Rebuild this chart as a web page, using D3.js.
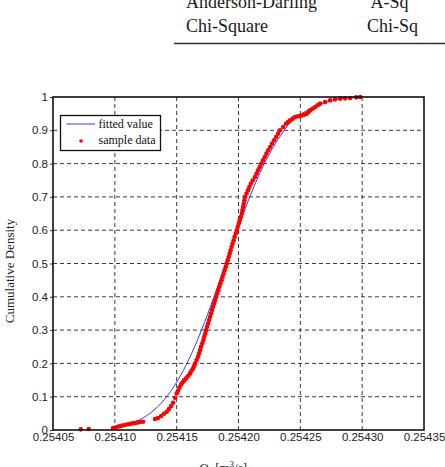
<!DOCTYPE html>
<html>
<head>
<meta charset="utf-8">
<script src="https://cdn.jsdelivr.net/npm/d3@7"></script>
<style>
  body { margin: 0; background: #fff; }
  svg { display: block; }
</style>
</head>
<body>
<script>
var w = 445;
var h = 467;

// table fragment above the chart
var tableTests = ["Anderson-Darling", "Chi-Square"];
var tableSymbols = ["A-Sq", "Chi-Sq"];

// axis ticks
var xTicks = [0.25405, 0.25410, 0.25415, 0.25420, 0.25425, 0.25430, 0.25435];
var xTickLabels = ["0.25405", "0.25410", "0.25415", "0.25420", "0.25425", "0.25430", "0.25435"];
var yTicks = [0, 0.1, 0.2, 0.3, 0.4, 0.5, 0.6, 0.7, 0.8, 0.9, 1];
var yTickLabels = ["0", "0.1", "0.2", "0.3", "0.4", "0.5", "0.6", "0.7", "0.8", "0.9", "1"];

var legendLabels = ["fitted value", "sample data"];

// fitted cdf
var fittedQ = [0.254100, 0.254105, 0.254110, 0.254115, 0.254120, 0.254125, 0.254130, 0.254135,
  0.254140, 0.254145, 0.254150, 0.254155, 0.254160, 0.254165, 0.254170, 0.254175, 0.254180,
  0.254185, 0.254190, 0.254195, 0.254200, 0.254205, 0.254210, 0.254215, 0.254220, 0.254225,
  0.254230, 0.254235, 0.254240, 0.254245, 0.254250, 0.254255, 0.254260, 0.254265, 0.254270,
  0.254275, 0.254280, 0.254285, 0.254290, 0.254295, 0.254300];
var fittedP = [0.0080, 0.0115, 0.0162, 0.0225, 0.0307, 0.0412, 0.0546, 0.0711,
  0.0912, 0.1153, 0.1435, 0.1762, 0.2131, 0.2542, 0.2991, 0.3475, 0.3982,
  0.4507, 0.5044, 0.5577, 0.6103, 0.6606, 0.7082, 0.7527, 0.7931, 0.8294,
  0.8613, 0.8888, 0.9150, 0.9330, 0.9470, 0.9590, 0.9690, 0.9770, 0.9840,
  0.9890, 0.9930, 0.9960, 0.9980, 0.9990, 0.9995];

// sample points
var sampleQ = [0.2540724, 0.2540789, 0.2540985, 0.2541010, 0.2541034, 0.2541058, 0.2541082,
  0.2541107, 0.2541131, 0.2541155, 0.2541180, 0.2541204, 0.2541228, 0.2541325, 0.2541349,
  0.2541374, 0.2541398, 0.2541420, 0.2541438, 0.2541455, 0.2541471, 0.2541487, 0.2541501,
  0.2541511, 0.2541523, 0.2541536, 0.2541548, 0.2541560, 0.2541576, 0.2541592, 0.2541608,
  0.2541620, 0.2541633, 0.2541641, 0.2541649, 0.2541661, 0.2541673, 0.2541681, 0.2541689,
  0.2541697, 0.2541707, 0.2541716, 0.2541723, 0.2541731, 0.2541738, 0.2541746, 0.2541754,
  0.2541762, 0.2541770, 0.2541778, 0.2541786, 0.2541794, 0.2541803, 0.2541811, 0.2541819,
  0.2541828, 0.2541836, 0.2541845, 0.2541854, 0.2541863, 0.2541871, 0.2541880, 0.2541888,
  0.2541897, 0.2541905, 0.2541913, 0.2541921, 0.2541929, 0.2541936, 0.2541944, 0.2541952,
  0.2541961, 0.2541969, 0.2541978, 0.2541986, 0.2541994, 0.2542002, 0.2542010, 0.2542019,
  0.2542027, 0.2542032, 0.2542037, 0.2542043, 0.2542048, 0.2542053, 0.2542065, 0.2542077,
  0.2542088, 0.2542100, 0.2542116, 0.2542134, 0.2542146, 0.2542158, 0.2542171, 0.2542185,
  0.2542199, 0.2542212, 0.2542226, 0.2542240, 0.2542256, 0.2542272, 0.2542288, 0.2542304,
  0.2542320, 0.2542336, 0.2542361, 0.2542385, 0.2542401, 0.2542417, 0.2542438, 0.2542458,
  0.2542482, 0.2542506, 0.2542531, 0.2542552, 0.2542567, 0.2542579, 0.2542599, 0.2542620,
  0.2542640, 0.2542660, 0.2542700, 0.2542741, 0.2542781, 0.2542822, 0.2542862, 0.2542903,
  0.2542951, 0.2542984];
var sampleP = [0.002, 0.003, 0.006, 0.008, 0.011, 0.013, 0.015,
  0.017, 0.019, 0.0205, 0.022, 0.024, 0.025, 0.033, 0.036,
  0.042, 0.049, 0.055, 0.063, 0.072, 0.082, 0.097, 0.11,
  0.118, 0.128, 0.137, 0.143, 0.149, 0.155, 0.162, 0.17,
  0.178, 0.185, 0.192, 0.20, 0.21, 0.22, 0.23, 0.24,
  0.25, 0.26, 0.27, 0.28, 0.29, 0.30, 0.31, 0.32,
  0.33, 0.34, 0.35, 0.36, 0.37, 0.38, 0.39, 0.40,
  0.41, 0.42, 0.43, 0.44, 0.45, 0.46, 0.47, 0.48,
  0.49, 0.50, 0.51, 0.52, 0.53, 0.54, 0.55, 0.56,
  0.57, 0.58, 0.59, 0.60, 0.61, 0.62, 0.63, 0.64,
  0.65, 0.66, 0.67, 0.68, 0.69, 0.70, 0.71, 0.72,
  0.73, 0.74, 0.75, 0.76, 0.77, 0.78, 0.79, 0.80,
  0.81, 0.82, 0.83, 0.84, 0.85, 0.86, 0.87, 0.88,
  0.89, 0.90, 0.91, 0.92, 0.925, 0.93, 0.935, 0.94,
  0.942, 0.944, 0.947, 0.95, 0.955, 0.96, 0.965, 0.97,
  0.975, 0.98, 0.985, 0.99, 0.993, 0.995, 0.996, 0.997,
  0.999, 1.0];

var plot = { left: 53, right: 424, top: 97, bottom: 430 };
var serif = "'Liberation Serif', 'Times New Roman', serif";
var sans = "'Liberation Sans', Arial, sans-serif";

var xScale = d3.scaleLinear()
    .domain([xTicks[0], xTicks[xTicks.length - 1]])
    .range([plot.left, plot.right]);

var yScale = d3.scaleLinear()
    .domain([0, 1])
    .range([plot.bottom, plot.top]);

var svg = d3.select("body")
    .append("svg")
    .attr("width", w)
    .attr("height", h);

svg.append("rect").attr("width", w).attr("height", h).attr("fill", "#fff");

// table bit at the top
var table = svg.append("g").attr("font-family", serif).attr("font-size", 18).attr("fill", "#1a1a1a");
table.selectAll("text.test")
    .data(tableTests)
    .enter()
    .append("text")
    .attr("class", "test")
    .attr("x", 186)
    .attr("y", function(d, i) { return 8 + i * 24; })
    .text(function(d) { return d; });
table.selectAll("text.sym")
    .data(tableSymbols)
    .enter()
    .append("text")
    .attr("class", "sym")
    .attr("x", function(d, i) { return i === 0 ? 370.5 : 367; })
    .attr("y", function(d, i) { return 8 + i * 24; })
    .text(function(d) { return d; });
svg.append("line")
    .attr("x1", 174).attr("x2", w)
    .attr("y1", 43.5).attr("y2", 43.5)
    .attr("stroke", "#333").attr("stroke-width", 1.5);

// grid
var grid = svg.append("g").attr("stroke", "#3c3c3c").attr("stroke-width", 1).attr("stroke-dasharray", "4,3");
grid.selectAll("line.vx")
    .data(xTicks.slice(1, -1))
    .enter()
    .append("line")
    .attr("x1", function(d) { return xScale(d); })
    .attr("x2", function(d) { return xScale(d); })
    .attr("y1", plot.bottom)
    .attr("y2", plot.top);
grid.selectAll("line.hy")
    .data(yTicks.slice(1, -1))
    .enter()
    .append("line")
    .attr("x1", plot.left)
    .attr("x2", plot.right)
    .attr("y1", function(d) { return yScale(d); })
    .attr("y2", function(d) { return yScale(d); });

// axes
var xAxis = d3.axisBottom(xScale)
    .tickValues(xTicks)
    .tickSize(0)
    .tickPadding(3)
    .tickFormat(function(d, i) { return xTickLabels[i]; });
var gx = svg.append("g")
    .attr("transform", "translate(0," + plot.bottom + ")")
    .call(xAxis);

var yAxis = d3.axisLeft(yScale)
    .tickValues(yTicks)
    .tickSize(3)
    .tickPadding(2)
    .tickFormat(function(d, i) { return yTickLabels[i]; });
var gy = svg.append("g")
    .attr("transform", "translate(" + plot.left + ",0)")
    .call(yAxis);

[gx, gy].forEach(function(g) {
  g.select(".domain").remove();
  g.selectAll("text").attr("font-family", sans).attr("font-size", 11.5).attr("fill", "#222");
  g.selectAll("line").attr("stroke", "#333");
});

// fitted line
var line = d3.line()
    .x(function(d) { return xScale(d[0]); })
    .y(function(d) { return yScale(d[1]); })
    .curve(d3.curveMonotoneX);

svg.append("path")
    .datum(d3.zip(fittedQ, fittedP))
    .attr("d", line)
    .attr("fill", "none")
    .attr("stroke", "#3838ff")
    .attr("stroke-width", 1);

// sample dots
svg.append("g")
    .selectAll("circle")
    .data(d3.zip(sampleQ, sampleP))
    .enter()
    .append("circle")
    .attr("cx", function(d) { return xScale(d[0]); })
    .attr("cy", function(d) { return yScale(d[1]); })
    .attr("r", 2.3)
    .attr("fill", "#ff0000");

// box
svg.append("rect")
    .attr("x", plot.left).attr("y", plot.top)
    .attr("width", plot.right - plot.left)
    .attr("height", plot.bottom - plot.top)
    .attr("fill", "none")
    .attr("stroke", "#111")
    .attr("stroke-width", 1.6);

// legend
var legend = svg.append("g");
legend.append("rect")
    .attr("x", 60.5).attr("y", 115.5)
    .attr("width", 100).attr("height", 35)
    .attr("fill", "#fff")
    .attr("stroke", "#111")
    .attr("stroke-width", 1.3);
legend.append("line")
    .attr("x1", 66.5).attr("x2", 95)
    .attr("y1", 124).attr("y2", 124)
    .attr("stroke", "#3838ff").attr("stroke-width", 1);
legend.append("circle")
    .attr("cx", 81).attr("cy", 141)
    .attr("r", 1.8)
    .attr("fill", "#ff0000");
legend.selectAll("text")
    .data(legendLabels)
    .enter()
    .append("text")
    .attr("x", 98.5)
    .attr("y", function(d, i) { return 128 + i * 16; })
    .attr("font-family", serif)
    .attr("font-size", 12)
    .attr("fill", "#111")
    .text(function(d) { return d; });

// axis titles
svg.append("text")
    .attr("transform", "translate(13.5,271) rotate(-90)")
    .attr("text-anchor", "middle")
    .attr("font-family", serif)
    .attr("font-size", 13)
    .attr("fill", "#222")
    .text("Cumulative Density");

var xt = svg.append("text")
    .attr("x", 199)
    .attr("y", 472)
    .attr("font-family", serif)
    .attr("font-size", 13)
    .attr("fill", "#222");
xt.append("tspan").attr("font-style", "italic").text("Q");
xt.append("tspan").attr("font-size", 9).attr("dy", 3).text("s");
xt.append("tspan").attr("dy", -3).text(" [m");
xt.append("tspan").attr("font-size", 9).attr("dy", -5).text("3");
xt.append("tspan").attr("dy", 5).text("/s]");
</script>
</body>
</html>
